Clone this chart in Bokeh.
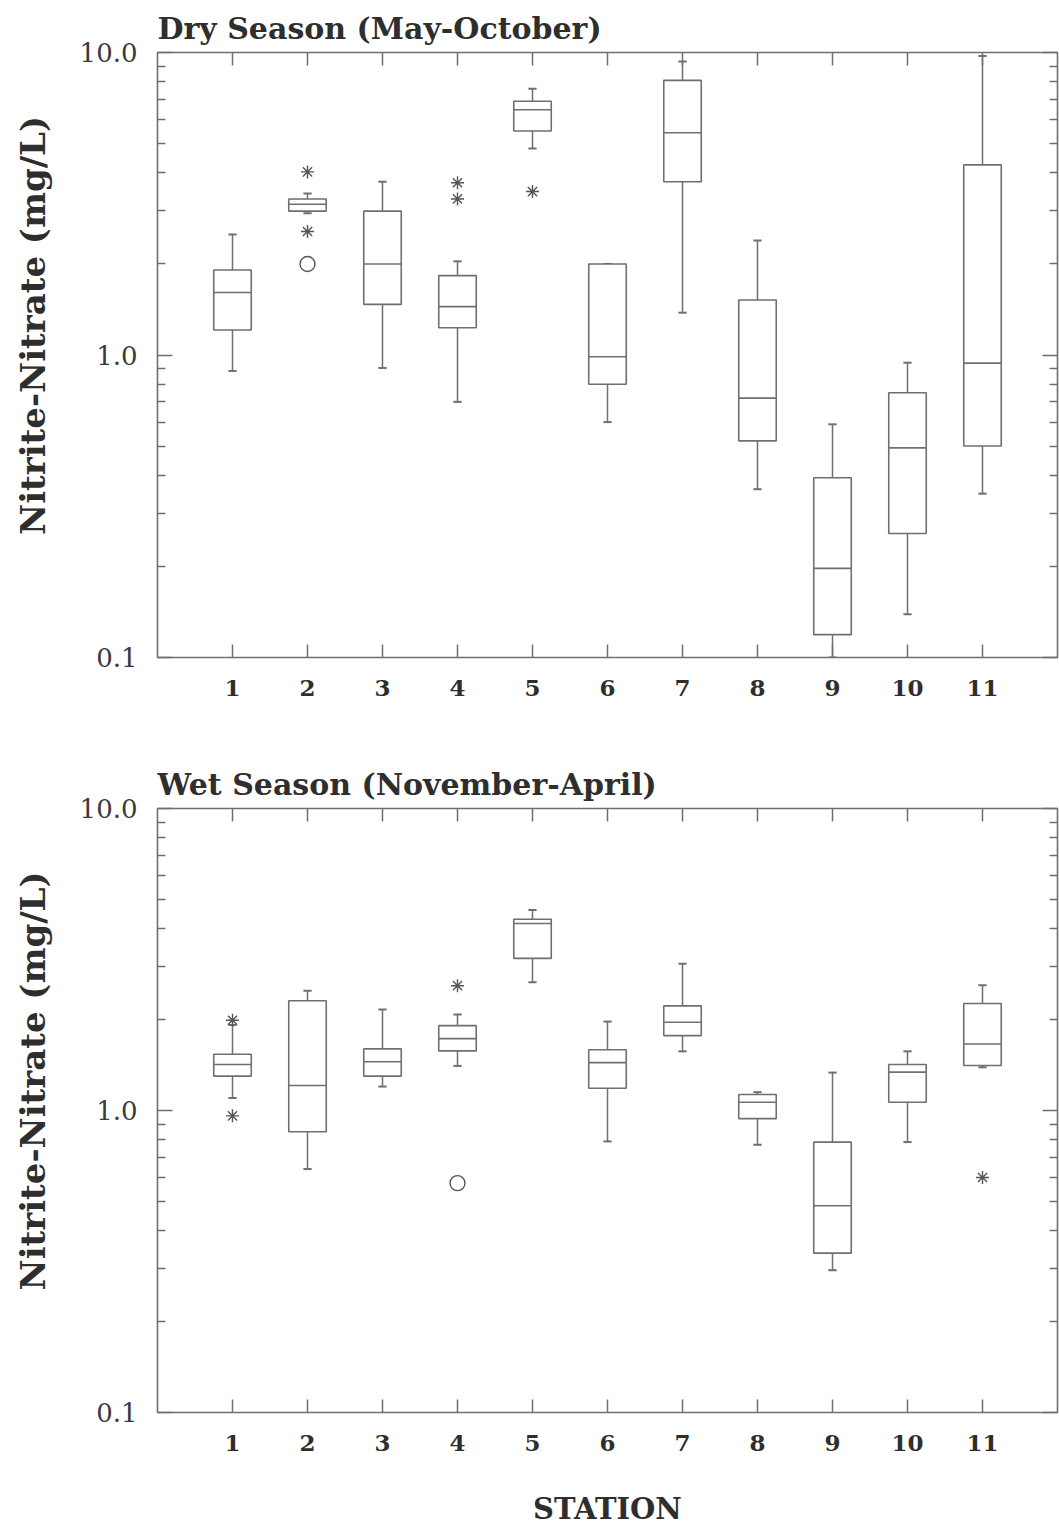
from bokeh.plotting import figure
from bokeh.layouts import column
from bokeh.models import (Range1d, FixedTicker, LinearAxis, LogAxis,
                          CustomJSTickFormatter, ColumnDataSource)
from bokeh.embed import file_html
from bokeh.resources import INLINE

# ---------------- data ----------------
stations = [1, 2, 3, 4, 5, 6, 7, 8, 9, 10, 11]

dry_lo  = [0.885, 2.94, 0.906, 0.70, 4.82, 0.60, 1.38, 0.36, 0.10, 0.139, 0.348]
dry_q1  = [1.21, 2.99, 1.47, 1.23, 5.50, 0.80, 3.74, 0.52, 0.119, 0.257, 0.50]
dry_med = [1.61, 3.15, 2.00, 1.445, 6.47, 0.987, 5.43, 0.72, 0.197, 0.493, 0.94]
dry_q3  = [1.91, 3.28, 2.99, 1.83, 6.90, 2.00, 8.09, 1.52, 0.393, 0.75, 4.25]
dry_hi  = [2.50, 3.42, 3.74, 2.04, 7.59, 2.00, 9.33, 2.39, 0.59, 0.943, 9.73]
dry_star_x = [2, 2, 4, 4, 5]
dry_star_y = [4.03, 2.56, 3.71, 3.28, 3.47]
dry_circle_x = [2]
dry_circle_y = [2.0]

wet_lo  = [1.10, 0.64, 1.20, 1.405, 2.66, 0.79, 1.57, 0.77, 0.296, 0.786, 1.39]
wet_q1  = [1.30, 0.85, 1.30, 1.575, 3.19, 1.185, 1.77, 0.94, 0.337, 1.065, 1.41]
wet_med = [1.42, 1.21, 1.45, 1.73, 4.16, 1.44, 1.96, 1.065, 0.484, 1.34, 1.66]
wet_q3  = [1.535, 2.31, 1.60, 1.91, 4.30, 1.59, 2.22, 1.13, 0.786, 1.42, 2.26]
wet_hi  = [1.92, 2.49, 2.16, 2.08, 4.61, 1.97, 3.06, 1.15, 1.335, 1.57, 2.60]
wet_star_x = [1, 1, 4, 11]
wet_star_y = [1.99, 0.96, 2.59, 0.60]
wet_circle_x = [4]
wet_circle_y = [0.575]

y_major = [0.1, 1.0, 10.0]
y_tick_labels = ["0.1", "1.0", "10.0"]
y_minor = [0.2, 0.3, 0.4, 0.5, 0.6, 0.7, 0.8, 0.9, 2, 3, 4, 5, 6, 7, 8, 9]

# ---------------- style ----------------
LINE = "#6f6f6f"
TEXT = "#2e2e2e"
FONT = "DejaVu Serif"
BOX_W = 0.5
CAP_W = 0.055
YLABEL = "\u00a0" * 5 + "Nitrite-Nitrate (mg/L)"


def blank_formatter():
    return CustomJSTickFormatter(code="return '';")


def make_panel(title, lo, q1, med, q3, hi, sx, sy, cx, cy,
               height, top, bottom, xlabel=None):
    p = figure(width=1059, height=height,
               x_range=Range1d(0, 12), y_range=Range1d(0.1, 10),
               y_axis_type="log", output_backend="svg", toolbar_location=None,
               min_border_left=157, min_border_right=2,
               min_border_top=top, min_border_bottom=bottom)
    p.background_fill_color = "white"
    p.border_fill_color = "white"
    p.outline_line_color = LINE
    p.outline_line_width = 1.6
    p.grid.visible = False

    p.title.text = title
    p.title.align = "left"
    p.title.text_font = FONT
    p.title.text_font_size = "30px"
    p.title.text_font_style = "bold"
    p.title.text_color = TEXT
    p.title.standoff = 13

    ytick = FixedTicker(ticks=y_major, minor_ticks=y_minor)
    yfmt = CustomJSTickFormatter(args=dict(vals=y_major, labs=y_tick_labels), code="""
        for (let i = 0; i < vals.length; i++) {
            if (Math.abs(vals[i] - tick) < 1e-6 * vals[i]) return labs[i];
        }
        return '';
    """)
    xtick = FixedTicker(ticks=stations)

    ya = p.yaxis[0]
    ya.ticker = ytick
    ya.formatter = yfmt
    ya.axis_line_color = None
    ya.major_tick_in = 15
    ya.major_tick_out = 0
    ya.minor_tick_in = 8
    ya.minor_tick_out = 0
    ya.major_tick_line_color = LINE
    ya.minor_tick_line_color = LINE
    ya.major_tick_line_width = 1.5
    ya.minor_tick_line_width = 1.5
    ya.major_label_standoff = 20
    ya.major_label_text_font = FONT
    ya.major_label_text_font_size = "26px"
    ya.major_label_text_color = "#3a3a3a"
    ya.axis_label = YLABEL
    ya.axis_label_text_font = FONT
    ya.axis_label_text_font_size = "34px"
    ya.axis_label_text_font_style = "bold"
    ya.axis_label_text_color = TEXT
    ya.axis_label_standoff = 24

    xa = p.xaxis[0]
    xa.ticker = xtick
    xa.axis_line_color = None
    xa.major_tick_in = 13
    xa.major_tick_out = 0
    xa.minor_tick_in = 0
    xa.minor_tick_out = 0
    xa.major_tick_line_color = LINE
    xa.major_tick_line_width = 1.5
    xa.major_label_standoff = 22
    xa.major_label_text_font = FONT
    xa.major_label_text_font_size = "23px"
    xa.major_label_text_font_style = "bold"
    xa.major_label_text_color = TEXT
    if xlabel:
        xa.axis_label = xlabel
        xa.axis_label_text_font = FONT
        xa.axis_label_text_font_size = "29px"
        xa.axis_label_text_font_style = "bold"
        xa.axis_label_text_color = TEXT
        xa.axis_label_standoff = 38

    top_ax = LinearAxis(ticker=FixedTicker(ticks=stations),
                        formatter=blank_formatter(),
                        major_label_text_font_size="1px", major_label_standoff=0,
                        major_tick_in=13, major_tick_out=0,
                        minor_tick_in=0, minor_tick_out=0,
                        axis_line_color=None, major_tick_line_color=LINE,
                        major_tick_line_width=1.5)
    p.add_layout(top_ax, "above")
    right_ax = LogAxis(ticker=FixedTicker(ticks=y_major, minor_ticks=y_minor),
                       formatter=blank_formatter(),
                       major_label_text_font_size="1px", major_label_standoff=0,
                       major_tick_in=15, major_tick_out=0,
                       minor_tick_in=8, minor_tick_out=0,
                       axis_line_color=None, major_tick_line_color=LINE,
                       minor_tick_line_color=LINE,
                       major_tick_line_width=1.5, minor_tick_line_width=1.5)
    p.add_layout(right_ax, "right")

    src = ColumnDataSource(dict(
        x=stations, lo=lo, q1=q1, med=med, q3=q3, hi=hi,
        xl=[s - BOX_W / 2 for s in stations],
        xr=[s + BOX_W / 2 for s in stations],
        cl=[s - CAP_W for s in stations],
        cr=[s + CAP_W for s in stations],
    ))
    # whiskers
    p.segment(x0="x", y0="q3", x1="x", y1="hi", source=src,
              line_color=LINE, line_width=1.5)
    p.segment(x0="x", y0="q1", x1="x", y1="lo", source=src,
              line_color=LINE, line_width=1.5)
    # caps
    p.segment(x0="cl", y0="hi", x1="cr", y1="hi", source=src,
              line_color=LINE, line_width=2)
    p.segment(x0="cl", y0="lo", x1="cr", y1="lo", source=src,
              line_color=LINE, line_width=2)
    # boxes
    p.vbar(x="x", width=BOX_W, bottom="q1", top="q3", source=src,
           fill_color="white", line_color=LINE, line_width=1.6)
    # medians
    p.segment(x0="xl", y0="med", x1="xr", y1="med", source=src,
              line_color=LINE, line_width=1.6)
    # outliers
    p.scatter(x=sx, y=sy, marker="asterisk", size=13,
              line_color="#555555", line_width=1.4)
    p.scatter(x=cx, y=cy, marker="circle", size=15,
              fill_color=None, line_color="#555555", line_width=1.4)
    return p


p1 = make_panel("Dry Season (May-October)", dry_lo, dry_q1, dry_med, dry_q3, dry_hi,
                dry_star_x, dry_star_y, dry_circle_x, dry_circle_y,
                height=720, top=52, bottom=63)
p2 = make_panel("Wet Season (November-April)", wet_lo, wet_q1, wet_med, wet_q3, wet_hi,
                wet_star_x, wet_star_y, wet_circle_x, wet_circle_y,
                height=808, top=88, bottom=115, xlabel="STATION")

layout = column(p1, p2, spacing=0)
open("out.html", "w").write(file_html(layout, INLINE))
